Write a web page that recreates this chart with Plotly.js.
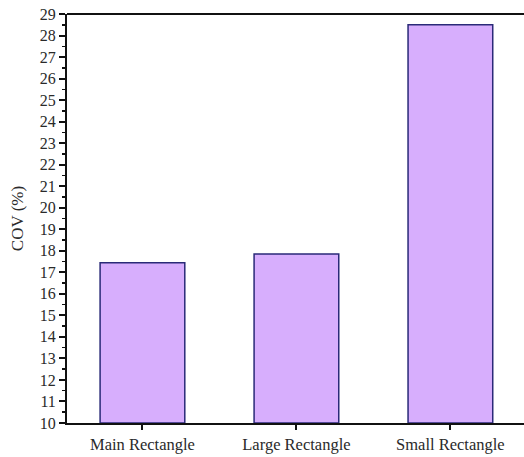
<!DOCTYPE html>
<html>
<head>
<meta charset="utf-8">
<script src="https://cdn.plot.ly/plotly-3.0.1.min.js"></script>
<style>html,body{margin:0;padding:0;background:#fff;overflow:hidden;width:524px;height:457px;}#chart{width:532px;height:457px;}</style>
</head>
<body>
<div id="chart"></div>
<script>
const categories = ["Main Rectangle", "Large Rectangle", "Small Rectangle"];
const covValues = [17.45, 17.85, 28.5];
const yTickVals = [10,11,12,13,14,15,16,17,18,19,20,21,22,23,24,25,26,27,28,29];

const trace = {
  type: "bar",
  x: [0, 1, 2],
  y: covValues.map(v => v - 10),
  base: 10,
  width: 0.55,
  marker: {color: "#D7AEFD", line: {color: "#2A2A78", width: 1.5}},
  hoverinfo: "skip"
};

const layout = {
  width: 532, height: 457,
  margin: {l: 67, r: 0, t: 14, b: 34},
  paper_bgcolor: "#fff", plot_bgcolor: "#fff",
  font: {family: "Liberation Serif, Times New Roman, serif", color: "#2a2a2a", size: 16},
  showlegend: false,
  bargap: 0,
  xaxis: {
    range: [-0.49, 2.53],
    tickvals: [0, 1, 2],
    ticktext: categories,
    showline: true, linecolor: "#111", linewidth: 2, mirror: false,
    ticks: "outside", ticklen: 5, tickwidth: 2, tickcolor: "#111",
    showgrid: false, zeroline: false,
    tickfont: {size: 16.5}
  },
  yaxis: {
    range: [10, 29],
    tickvals: yTickVals,
    showline: true, linecolor: "#111", linewidth: 2, mirror: false,
    ticks: "outside", ticklen: 6, tickwidth: 2, tickcolor: "#111",
    minor: {dtick: 0.5, ticks: "outside", ticklen: 3, tickwidth: 1.5, tickcolor: "#111", showgrid: false},
    showgrid: false, zeroline: false,
    tickfont: {size: 16},
    title: {text: "COV (%)", font: {size: 17}, standoff: 12}
  },
  shapes: [{type: "line", xref: "paper", yref: "paper", x0: 0, x1: 1, y0: 1, y1: 1, line: {color: "#111", width: 2}}]
};

Plotly.newPlot("chart", [trace], layout, {staticPlot: true, displayModeBar: false});
</script>
</body>
</html>
